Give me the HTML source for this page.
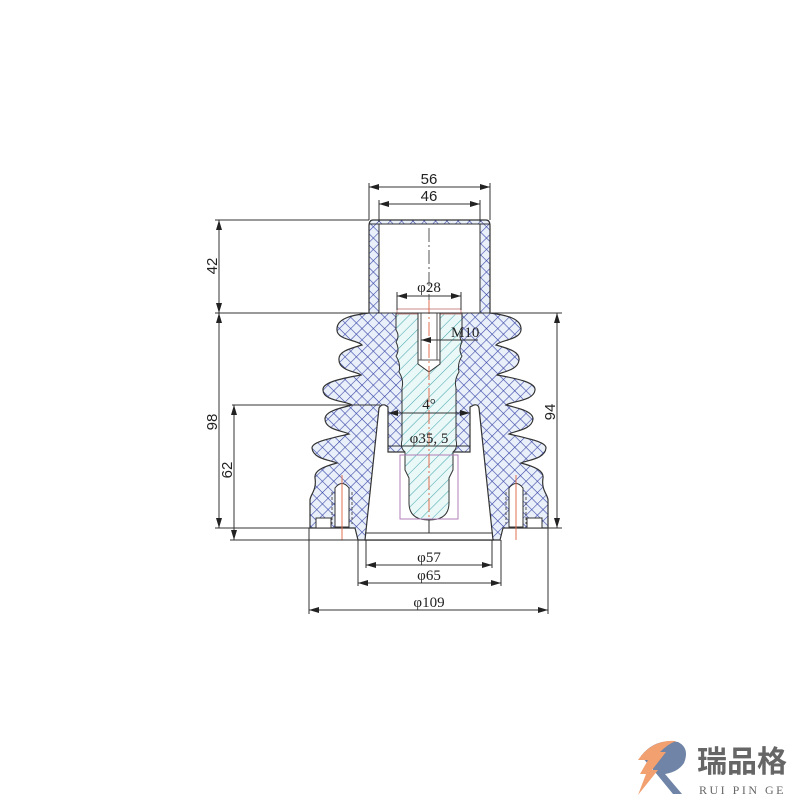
<!DOCTYPE html>
<html><head><meta charset="utf-8"><style>
html,body{margin:0;padding:0;background:#fff;}
svg{display:block;}
.d{stroke:#333;stroke-width:1;fill:none;}
.ts{font-family:"Liberation Sans",sans-serif;font-size:15px;fill:#222;}
.tf{font-family:"Liberation Serif",serif;font-size:15px;fill:#222;}
</style></head><body>
<svg width="800" height="800" viewBox="0 0 800 800" xmlns="http://www.w3.org/2000/svg">
<defs>
<pattern id="xh" width="8" height="8" patternUnits="userSpaceOnUse" patternTransform="rotate(45)">
<rect width="8" height="8" fill="#eaf0fa"/>
<path d="M0 0V8M0 0H8" stroke="#3a48a8" stroke-width="1.2"/>
</pattern>
<pattern id="hh" width="8" height="8" patternUnits="userSpaceOnUse" patternTransform="rotate(45)">
<rect width="8" height="8" fill="#eaf8f8"/>
<path d="M0 0V8" stroke="#4aaab0" stroke-width="1.1"/>
</pattern>
<marker id="a" markerWidth="10" markerHeight="6" refX="10" refY="3" orient="auto-start-reverse" markerUnits="userSpaceOnUse">
<path d="M0 0L10 3L0 6Z" fill="#222"/>
</marker>
</defs>

<path fill="url(#xh)" stroke="#333" stroke-width="1.2" d="
M373 220 L486 220 Q490 220 490 226 L490 313
C505 315 522 318 521 330 C520 340 500 340 496 345
C510 349 520 352 519 360 C518 371 500 372 497 375
C520 379 536 383 535 390 C534 401 512 401 506 405
C522 409 533 412 533 419 C532 430 514 431 509 434
C530 439 546 442 546 448 C545 459 528 460 521 463
C536 467 544 471 543 478 C541 490 548 495 548 500
L548 528 L503 528 L500 540 L358 540 L355 528 L310 528 L310 500
C310 495 317 490 315 478 C314 471 322 467 337 463
C330 460 313 459 312 448 C312 442 328 439 349 434
C344 431 325 430 325 419 C325 412 336 409 352 405
C346 401 323 401 323 390 C322 383 338 379 361 375
C358 372 339 371 339 360 C338 352 348 349 362 345
C358 340 337 340 337 330 C336 318 353 315 369 313
L369 226 Q369 220 373 220 Z"/>
<rect x="379" y="224" width="101" height="89" fill="#fff" stroke="#333" stroke-width="1"/>
<line x1="369" y1="224" x2="490" y2="224" stroke="#333"/>
<path fill="#fff" stroke="#333" stroke-width="1.2" d="M365 540 L379 408 Q381 404 385 405 L388 407 L388 452 L470 452 L470 407 L474 405 Q478 404 479 408 L493 540 Z"/>
<line x1="365" y1="533" x2="493" y2="533" stroke="#333"/>
<path fill="url(#hh)" stroke="#333" stroke-width="1" d="
M396 313 L462 313 L462 330 Q458 336 462 342 Q458 350 462 356 Q457 364 459 372 Q454 380 456 388 L456 440 Q458 448 453 452 L453 470 L449 478 L449 503 Q449 520 429 520 Q409 520 409 503 L409 478 L405 470 L405 452 Q400 448 402 440 L402 388 Q404 380 399 372 Q401 364 396 356 Q400 350 396 342 Q400 336 396 330 Z"/>
<rect x="400" y="455" width="58" height="64" fill="none" stroke="#b080b8" stroke-width="1"/>
<rect x="397" y="309" width="64" height="5" fill="none" stroke="#c88" stroke-width="1"/>
<path d="M418 313 L418 364 L429 372 L440 364 L440 313 Z" fill="#fff" stroke="#333"/>
<line x1="421" y1="313" x2="421" y2="360" stroke="#555"/>
<line x1="437" y1="313" x2="437" y2="360" stroke="#555"/>
<line x1="418" y1="360" x2="440" y2="360" stroke="#555"/>
<line x1="429" y1="300" x2="429" y2="525" stroke="#e07050" stroke-width="1" stroke-dasharray="14 3 2 3"/>
<line x1="429" y1="228" x2="429" y2="300" stroke="#555" stroke-dasharray="14 3 2 3"/>
<line x1="429" y1="520" x2="429" y2="533" stroke="#333"/>
<g>
<path d="M335 527 L335 488 Q342 479 349 488 L349 527 Z" fill="#fff" stroke="#333"/>
<line x1="342" y1="475" x2="342" y2="540" stroke="#e07050"/>
<path d="M332 492 L332 524 M352 492 L352 524" stroke="#555" stroke-dasharray="3 2"/>
<rect x="316" y="518" width="15" height="10" fill="#fff" stroke="#333"/>
<path d="M523 527 L523 488 Q516 479 509 488 L509 527 Z" fill="#fff" stroke="#333"/>
<line x1="516" y1="475" x2="516" y2="540" stroke="#e07050"/>
<path d="M506 492 L506 524 M526 492 L526 524" stroke="#555" stroke-dasharray="3 2"/>
<rect x="527" y="518" width="15" height="10" fill="#fff" stroke="#333"/>
</g>

<g class="d">
<line x1="369" y1="183" x2="369" y2="220"/><line x1="490" y1="183" x2="490" y2="220"/>
<line x1="369" y1="187" x2="490" y2="187" marker-start="url(#a)" marker-end="url(#a)"/>
<line x1="379" y1="200" x2="379" y2="222"/><line x1="480" y1="200" x2="480" y2="222"/>
<line x1="379" y1="204" x2="480" y2="204" marker-start="url(#a)" marker-end="url(#a)"/>
<line x1="215" y1="220" x2="369" y2="220"/>
<line x1="215" y1="313" x2="562" y2="313"/>
<line x1="219" y1="220" x2="219" y2="313" marker-start="url(#a)" marker-end="url(#a)"/>
<line x1="219" y1="313" x2="219" y2="528" marker-start="url(#a)" marker-end="url(#a)"/>
<line x1="215" y1="528" x2="310" y2="528"/>
<line x1="232" y1="405" x2="380" y2="405"/>
<line x1="234" y1="405" x2="234" y2="540" marker-start="url(#a)" marker-end="url(#a)"/>
<line x1="230" y1="540" x2="358" y2="540"/>
<line x1="548" y1="528" x2="562" y2="528"/>
<line x1="557" y1="313" x2="557" y2="528" marker-start="url(#a)" marker-end="url(#a)"/>
<line x1="397" y1="292" x2="397" y2="310"/><line x1="461" y1="292" x2="461" y2="310"/>
<line x1="397" y1="296" x2="461" y2="296" marker-start="url(#a)" marker-end="url(#a)"/>
<line x1="421" y1="340" x2="478" y2="340" marker-start="url(#a)"/>
<line x1="388" y1="413" x2="470" y2="413" marker-start="url(#a)" marker-end="url(#a)"/>
<line x1="388" y1="446" x2="470" y2="446"/>
<line x1="366" y1="540" x2="366" y2="568"/><line x1="492" y1="540" x2="492" y2="568"/>
<line x1="366" y1="565" x2="492" y2="565" marker-start="url(#a)" marker-end="url(#a)"/>
<line x1="358" y1="540" x2="358" y2="586"/><line x1="501" y1="540" x2="501" y2="586"/>
<line x1="358" y1="583" x2="501" y2="583" marker-start="url(#a)" marker-end="url(#a)"/>
<line x1="309" y1="528" x2="309" y2="614"/><line x1="548" y1="528" x2="548" y2="614"/>
<line x1="309" y1="610" x2="548" y2="610" marker-start="url(#a)" marker-end="url(#a)"/>
</g>
<text class="ts" x="429" y="184" text-anchor="middle">56</text>
<text class="ts" x="429" y="201" text-anchor="middle">46</text>
<text class="ts" transform="translate(217,266) rotate(-90)" text-anchor="middle">42</text>
<text class="ts" transform="translate(217,422) rotate(-90)" text-anchor="middle">98</text>
<text class="ts" transform="translate(232,470) rotate(-90)" text-anchor="middle">62</text>
<text class="ts" transform="translate(555,412) rotate(-90)" text-anchor="middle">94</text>
<text class="tf" x="429" y="292" text-anchor="middle">φ28</text>
<text class="tf" x="451" y="337">M10</text>
<text class="tf" x="429" y="409" text-anchor="middle">4°</text>
<text class="tf" x="429" y="443" text-anchor="middle">φ35, 5</text>
<text class="tf" x="429" y="562" text-anchor="middle">φ57</text>
<text class="tf" x="429" y="580" text-anchor="middle">φ65</text>
<text class="tf" x="429" y="607" text-anchor="middle">φ109</text>

<path d="M641 756 Q655 738 678 742 Q690 748 684 763 Q678 772 665 774 L682 794 L673 794 L655 772 Z" fill="#6f84a6"/>
<path d="M638 760 Q652 739 676 741 Q668 744 660 752 L666 752 L652 770 L658 770 L638 795 L646 774 L640 774 L648 760 Z" fill="#f2a070"/>
<text x="697" y="772" style="font-family:'Noto Sans CJK SC','WenQuanYi Zen Hei',sans-serif;font-weight:bold;font-size:30px;fill:#666;">瑞品格</text>
<text x="699" y="794" style="font-family:'Liberation Serif',serif;font-size:12px;letter-spacing:2.5px;fill:#666;">RUI PIN GE</text>
</svg>
</body></html>
